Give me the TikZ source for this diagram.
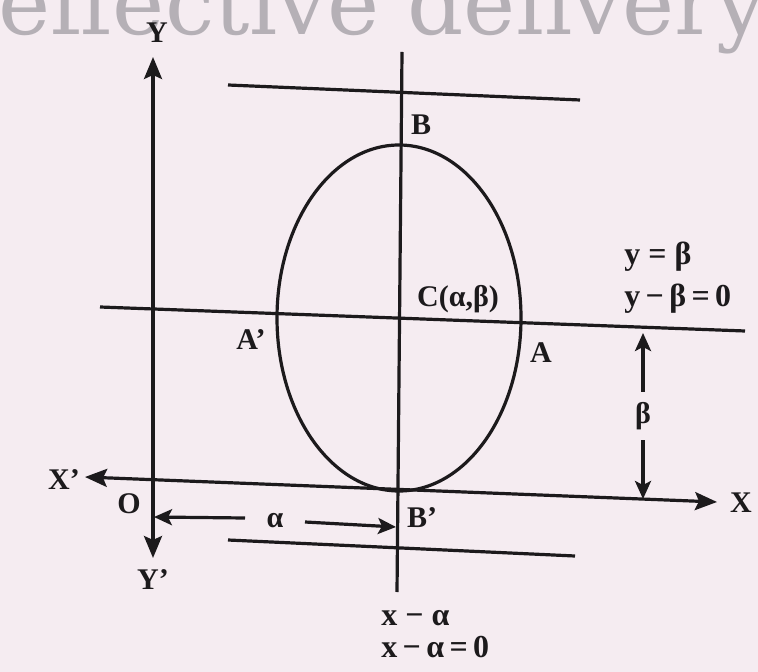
\documentclass[tikz,border=0pt]{standalone}
\usepackage{fontspec}
\setmainfont{Liberation Serif}
\newfontfamily\wmfont{DejaVu Serif}
\usetikzlibrary{arrows.meta}
\definecolor{bgc}{HTML}{F5ECF1}
\definecolor{ink}{HTML}{1C1A1C}
\definecolor{wmc}{HTML}{B5B0B6}
\tikzset{
  axis/.style={draw=ink, line width=1.6pt, {Stealth[length=11pt,width=9pt,inset=2pt]}-{Stealth[length=11pt,width=9pt,inset=2pt]}},
  plain/.style={draw=ink, line width=1.6pt},
  dimarrow/.style={draw=ink, line width=1.6pt, -{Stealth[length=9pt,width=8pt,inset=2pt]}},
  lbl/.style={text=ink, font=\fontsize{15}{17}\selectfont\bfseries, inner sep=0pt},
  eqlbl/.style={text=ink, font=\fontsize{16}{18}\selectfont\bfseries, inner sep=0pt, anchor=west},
}
\begin{document}
\begin{tikzpicture}[x=0.5pt,y=-0.5pt]
\fill[bgc] (0,0) rectangle (758,672);
\useasboundingbox (0,0) rectangle (758,672);
\begin{scope}
\clip (0,0) rectangle (758,672);
\node[text=wmc, font=\wmfont\fontsize{44}{50}\selectfont, inner sep=0pt, anchor=base west] (wm) at (-2,35) {effective delivery};
\end{scope}
% coordinates
\coordinate (ytop) at (153,57);
\coordinate (ybot) at (153,558);
\coordinate (xl) at (85,477);
\coordinate (xr) at (717,502);
\coordinate (vt) at (402,52);
\coordinate (vb) at (397,592);
\coordinate (tl) at (228,85);
\coordinate (tr) at (580,100);
\coordinate (cl) at (100,307);
\coordinate (cr) at (745,331);
\coordinate (bl) at (228,540);
\coordinate (br) at (575,556);
\coordinate (C) at (399,318);
% lines
\draw[plain] (tl) -- (tr);
\draw[plain] (cl) -- (cr);
\draw[plain] (bl) -- (br);
\draw[plain] (vt) -- (vb);
\draw[axis] (ytop) -- (ybot);
\draw[axis] (xl) -- (xr);
\draw[plain] (C) ellipse [x radius=61pt, y radius=86.5pt];
% labels
\node[lbl] (Y) at (157,33) {Y};
\node[lbl] (Yp) at (153,580) {Y'};
\node[lbl] (Xp) at (64,480) {X'};
\node[lbl] (X) at (741,503) {X};
\node[lbl] (O) at (129,504) {O};
\node[lbl] (B) at (421,125) {B};
\node[lbl] (Bp) at (422,518) {B'};
\node[lbl] (Ap) at (251,340) {A'};
\node[lbl] (A) at (541,353) {A};
\node[lbl] (Cl) at (458,299) {C(α,β)};
\node[lbl] (al) at (275,521) {α};
\node[lbl] (be) at (643,416) {β};
\node[eqlbl] (e1) at (624,257) {y = β};
\node[eqlbl] (e2) at (624,299) {y\,−\,β\,=\,0};
\node[eqlbl] (e3) at (381,618) {x − α};
\node[eqlbl] (e4) at (381,647) {x\,−\,α\,=\,0};
% dimension arrows
\coordinate (a1) at (245,518);
\coordinate (aL) at (154,517);
\coordinate (a2) at (305,522);
\coordinate (aR) at (396,527);
\coordinate (b1) at (643,392);
\coordinate (bU) at (643,333);
\coordinate (b2) at (643,440);
\coordinate (bD) at (643,499);
\draw[dimarrow] (a1) -- (aL);
\draw[dimarrow] (a2) -- (aR);
\draw[dimarrow] (b1) -- (bU);
\draw[dimarrow] (b2) -- (bD);
\end{tikzpicture}
\end{document}
